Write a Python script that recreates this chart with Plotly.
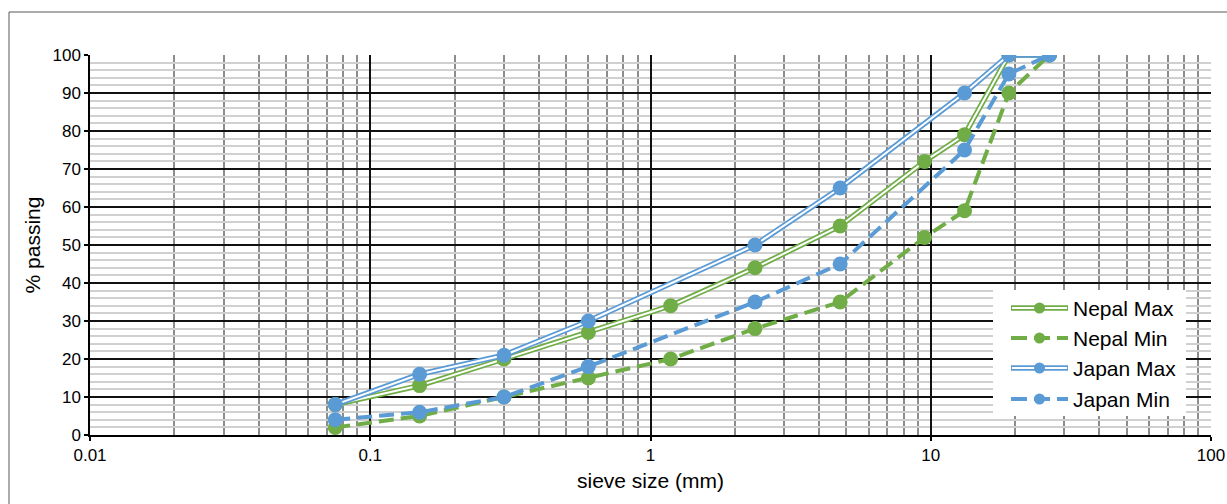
import plotly.graph_objects as go

# ---- data ----
sieve_mm = [0.075, 0.15, 0.3, 0.6, 1.18, 2.36, 4.75, 9.5, 13.2, 19, 26.5]
nepal_max = [8, 13, 20, 27, 34, 44, 55, 72, 79, 100, 100]
nepal_min = [2, 5, 10, 15, 20, 28, 35, 52, 59, 90, 100]
japan_max = [8, 16, 21, 30, None, 50, 65, None, 90, 100, 100]
japan_min = [4, 6, 10, 18, None, 35, 45, None, 75, 95, 100]

y_ticks = list(range(0, 101, 10))
x_tick_vals = [0.01, 0.1, 1, 10, 100]
x_tick_text = ["0.01", "0.1", "1", "10", "100"]

GREEN = "#70AD47"
BLUE = "#5B9BD5"
FONT = "Liberation Sans, Arial, sans-serif"

series = [
    ("Nepal Max", nepal_max, GREEN, "double"),
    ("Nepal Min", nepal_min, GREEN, "dash"),
    ("Japan Max", japan_max, BLUE, "double"),
    ("Japan Min", japan_min, BLUE, "dash"),
]

W, H = 1227, 504
# plot area in page pixels: x 90..1211, y 55..435
ML, MT = 90, 55
MR = W - 1211
MB = H - 435
PW, PH = W - ML - MR, H - MT - MB


def px(xp):
    return (xp - ML) / PW


def py(yp):
    return (MT + PH - yp) / PH


fig = go.Figure()
for name, vals, color, style in series:
    if style == "double":
        fig.add_trace(go.Scatter(
            x=sieve_mm, y=vals, mode="lines", connectgaps=True,
            line=dict(color=color, width=5.5), showlegend=False,
            hoverinfo="skip"))
        fig.add_trace(go.Scatter(
            x=sieve_mm, y=vals, mode="lines+markers", connectgaps=True, name=name,
            line=dict(color="white", width=2),
            marker=dict(color=color, size=15, symbol="circle"),
            showlegend=False))
    else:
        fig.add_trace(go.Scatter(
            x=sieve_mm, y=vals, mode="lines+markers", connectgaps=True, name=name,
            line=dict(color=color, width=4, dash="15px,7px"),
            marker=dict(color=color, size=15, symbol="circle"),
            showlegend=False))

shapes = []
annotations = []

# chart-area border
shapes.append(dict(type="rect", xref="paper", yref="paper",
                   x0=px(9), x1=px(1240), y0=py(520), y1=py(12),
                   line=dict(color="#595959", width=1), fillcolor="rgba(0,0,0,0)",
                   layer="below"))

# custom legend
shapes.append(dict(type="rect", xref="paper", yref="paper",
                   x0=px(993), x1=px(1186), y0=py(416), y1=py(290),
                   line=dict(color="white", width=0), fillcolor="white", layer="above"))
row_y = [308, 338, 368, 399]
lx0, lx1, lxm = 1011, 1068, 1039.5
r = 5.5
for (name, vals, color, style), yy in zip(series, row_y):
    if style == "double":
        shapes.append(dict(type="line", xref="paper", yref="paper",
                           x0=px(lx0), x1=px(lx1), y0=py(yy), y1=py(yy),
                           line=dict(color=color, width=5.5), layer="above"))
        shapes.append(dict(type="line", xref="paper", yref="paper",
                           x0=px(lx0 + 1), x1=px(lx1 - 1), y0=py(yy), y1=py(yy),
                           line=dict(color="white", width=2), layer="above"))
    else:
        shapes.append(dict(type="line", xref="paper", yref="paper",
                           x0=px(lx0), x1=px(lx1), y0=py(yy), y1=py(yy),
                           line=dict(color=color, width=4, dash="16px,7px"), layer="above"))
    shapes.append(dict(type="circle", xref="paper", yref="paper",
                       x0=px(lxm - r), x1=px(lxm + r), y0=py(yy + r), y1=py(yy - r),
                       line=dict(color=color, width=0), fillcolor=color, layer="above"))
    annotations.append(dict(xref="paper", yref="paper", x=px(1071), y=py(yy),
                            text=name, showarrow=False, xanchor="left", yanchor="middle",
                            font=dict(family=FONT, size=21, color="black")))

fig.update_layout(
    width=W, height=H,
    margin=dict(l=ML, r=MR, t=MT, b=MB, autoexpand=False),
    paper_bgcolor="white", plot_bgcolor="white",
    font=dict(family=FONT, color="black"),
    showlegend=False,
    shapes=shapes,
    annotations=annotations,
    xaxis=dict(
        type="log", range=[-2, 2], automargin=False,
        tickvals=x_tick_vals, ticktext=x_tick_text,
        tickfont=dict(size=17, color="black"),
        ticks="outside", ticklen=4, tickcolor="black", tickwidth=1.5,
        showgrid=True, gridcolor="#111111", gridwidth=1.5,
        minor=dict(dtick="D1", showgrid=True, gridcolor="#8C8C8C", gridwidth=1.5, ticks=""),
        showline=True, linecolor="black", linewidth=1.5,
        zeroline=False,
        title=dict(text="sieve size (mm)", font=dict(size=21, color="black"), standoff=9),
    ),
    yaxis=dict(
        range=[0, 100], automargin=False,
        tickvals=y_ticks,
        tickfont=dict(size=17, color="black"),
        ticks="outside", ticklen=4, tickcolor="black", tickwidth=1.5,
        showgrid=True, gridcolor="#111111", gridwidth=1.5,
        minor=dict(dtick=2, showgrid=True, gridcolor="#D0D0D0", gridwidth=1.5, ticks=""),
        showline=True, linecolor="black", linewidth=1.5,
        zeroline=False,
        title=dict(text="% passing", font=dict(size=21, color="black"), standoff=6),
    ),
)

fig.write_html(
    "out.html",
    config={"displayModeBar": False},
    post_script="document.body.style.margin='0';document.body.style.overflow='hidden';",
)
